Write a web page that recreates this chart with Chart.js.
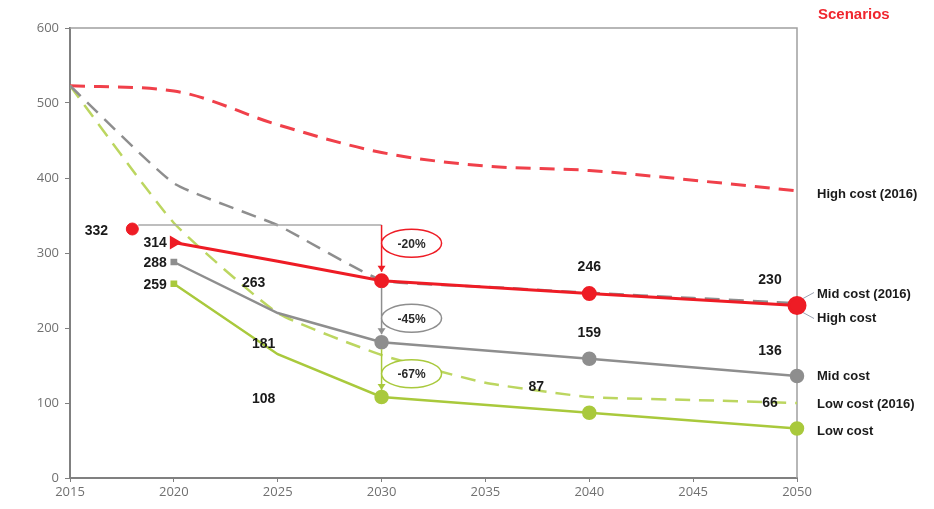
<!DOCTYPE html>
<html>
<head>
<meta charset="utf-8">
<script src="https://cdn.jsdelivr.net/npm/chart.js@4.4.1/dist/chart.umd.min.js"></script>
<style>
  body { margin: 0; background: #fff; }
  canvas { display: block; }
</style>
</head>
<body>
<canvas id="grafico" width="934" height="509"></canvas>
<script>
// Values
const anos2016 = [2015, 2020, 2025, 2030, 2035, 2040, 2045, 2050];
const highCost2016 = [523, 516, 471, 434, 416, 410, 397, 383];
const midCost2016 = [523, 393, 337, 264, 255, 247, 240, 233];
const lowCost2016 = [523, 340, 220, 164, 127, 108, 104, 100];

const anos = [2020, 2025, 2030, 2040, 2050];
const highCost = [314, 289, 263, 246, 230];
const midCost = [288, 220, 181, 159, 136];
const lowCost = [259, 165, 108, 87, 66];

const anoHistorico = [2018];
const valorHistorico = [332];

const reducoes = ['-20%', '-45%', '-67%'];
const yTicks = [0, 100, 200, 300, 400, 500, 600];

const VERMELHO = '#ee1c25';
const VERMELHO_TRAC = '#f0404a';
const CINZA = '#8e8e8e';
const VERDE = '#a9c93c';
const VERDE_TRAC = '#bcd660';

const pontos = (xs, ys) => xs.map((x, i) => ({ x: x, y: ys[i] }));

// 2020 markers are small, 2025 is only a bend, the rest are dots
const estilos = (forma, raioFinal) => ({
  pointStyle: [forma, 'circle', 'circle', 'circle', 'circle'],
  pointRadius: [forma === 'triangle' ? 5 : 3, 0, 6, 6, raioFinal],
  pointRotation: [90, 0, 0, 0, 0]
});

const fonteRotulo = 'bold 14px "Liberation Sans", Arial, sans-serif';

// frame, annotations and labels
const extras = {
  id: 'extras',
  beforeDatasetsDraw(chart) {
    const { ctx, chartArea: a } = chart;
    ctx.save();
    ctx.strokeStyle = '#a0a0a0';
    ctx.lineWidth = 1.5;
    ctx.beginPath();
    ctx.moveTo(a.left, a.top);
    ctx.lineTo(a.right, a.top);
    ctx.lineTo(a.right, a.bottom);
    ctx.stroke();
    ctx.restore();
  },
  afterDatasetsDraw(chart) {
    const { ctx, scales: { x, y } } = chart;
    ctx.save();

    // bracket from 2018 to 2030
    const x30 = x.getPixelForValue(2030);
    const yTopo = y.getPixelForValue(valorHistorico[0]) - 4;
    ctx.lineWidth = 1.5;
    ctx.strokeStyle = '#a8a8a8';
    ctx.beginPath();
    ctx.moveTo(x.getPixelForValue(anoHistorico[0]) + 6, yTopo);
    ctx.lineTo(x30, yTopo);
    ctx.stroke();

    const seta = (y1, y2, cor) => {
      ctx.strokeStyle = cor;
      ctx.fillStyle = cor;
      ctx.lineWidth = 1.5;
      ctx.beginPath();
      ctx.moveTo(x30, y1);
      ctx.lineTo(x30, y2);
      ctx.stroke();
      ctx.beginPath();
      ctx.moveTo(x30 - 4, y2 - 6);
      ctx.lineTo(x30 + 4, y2 - 6);
      ctx.lineTo(x30, y2);
      ctx.closePath();
      ctx.fill();
    };
    seta(yTopo, y.getPixelForValue(highCost[2]) - 9, VERMELHO);
    seta(y.getPixelForValue(highCost[2]) + 7, y.getPixelForValue(midCost[2]) - 8, CINZA);
    seta(y.getPixelForValue(midCost[2]) + 7, y.getPixelForValue(lowCost[2]) - 7, VERDE);

    // ellipses with the reductions
    const elipses = [
      [reducoes[0], 313, VERMELHO],
      [reducoes[1], 213, CINZA],
      [reducoes[2], 139, VERDE]
    ];
    ctx.font = 'bold 12px "Liberation Sans", Arial, sans-serif';
    ctx.textAlign = 'center';
    ctx.textBaseline = 'middle';
    elipses.forEach(([txt, v, cor]) => {
      const cx = x30 + 30, cy = y.getPixelForValue(v);
      ctx.fillStyle = '#fff';
      ctx.strokeStyle = cor;
      ctx.lineWidth = 1.5;
      ctx.beginPath();
      ctx.ellipse(cx, cy, 30, 14, 0, 0, Math.PI * 2);
      ctx.fill();
      ctx.stroke();
      ctx.fillStyle = '#2a2a2a';
      ctx.fillText(txt, cx, cy + 1);
    });

    // value labels
    ctx.font = fonteRotulo;
    ctx.fillStyle = '#1a1a1a';
    const rotulo = (ano, valor, dx, dy, alinh) => {
      ctx.textAlign = alinh;
      ctx.fillText(String(valor), x.getPixelForValue(ano) + dx, y.getPixelForValue(valor) + dy);
    };
    rotulo(anoHistorico[0], valorHistorico[0], -36, 2, 'center');
    [highCost, midCost, lowCost].forEach((serie, s) => {
      rotulo(anos[0], serie[0], -7, 1, 'right');
      rotulo(anos[2], serie[2], s === 0 ? -128 : -118, 2, 'center');
      rotulo(anos[3], serie[3], s === 2 ? -53 : 0, -26, 'center');
      rotulo(anos[4], serie[4], -27, -25, 'center');
    });

    // series names on the right
    const xNome = x.getPixelForValue(2050) + 20;
    const nomes = [
      ['High cost (2016)', highCost2016[7], 4],
      ['Mid cost (2016)', midCost2016[7], -9],
      ['High cost', highCost[4], 13],
      ['Mid cost', midCost[4], 0],
      ['Low cost (2016)', lowCost2016[7], 1],
      ['Low cost', lowCost[4], 3]
    ];
    ctx.font = 'bold 13px "Liberation Sans", Arial, sans-serif';
    ctx.textAlign = 'left';
    nomes.forEach(([txt, v, dy]) => {
      ctx.fillText(txt, xNome, y.getPixelForValue(v) + dy);
    });
    ctx.strokeStyle = '#9aa0b0';
    ctx.lineWidth = 1;
    ctx.beginPath();
    ctx.moveTo(xNome - 14, y.getPixelForValue(highCost[4]) - 7);
    ctx.lineTo(xNome - 3, y.getPixelForValue(highCost[4]) - 13);
    ctx.moveTo(xNome - 14, y.getPixelForValue(highCost[4]) + 7);
    ctx.lineTo(xNome - 3, y.getPixelForValue(highCost[4]) + 13);
    ctx.stroke();

    ctx.font = 'bold 15px "Liberation Sans", Arial, sans-serif';
    ctx.fillStyle = '#f0262e';
    ctx.fillText('Scenarios', xNome + 1, 15);
    ctx.restore();
  }
};

new Chart(document.getElementById('grafico'), {
  type: 'line',
  data: {
    datasets: [
      {
        label: 'High cost (2016)',
        data: pontos(anos2016, highCost2016),
        borderColor: VERMELHO_TRAC,
        borderWidth: 3,
        borderDash: [15, 9],
        cubicInterpolationMode: 'monotone',
        pointRadius: 0,
        order: 7
      },
      {
        label: 'Low cost (2016)',
        data: pontos(anos2016, lowCost2016),
        borderColor: VERDE_TRAC,
        borderWidth: 2.5,
        borderDash: [15, 9],
        tension: 0.15,
        pointRadius: 0,
        order: 6
      },
      {
        label: 'Mid cost (2016)',
        data: pontos(anos2016, midCost2016),
        borderColor: CINZA,
        borderWidth: 2.5,
        borderDash: [15, 9],
        tension: 0.15,
        pointRadius: 0,
        order: 5
      },
      {
        label: 'Low cost',
        data: pontos(anos, lowCost),
        borderColor: VERDE,
        backgroundColor: VERDE,
        borderWidth: 2.5,
        clip: false,
        order: 4,
        ...estilos('rect', 6)
      },
      {
        label: 'Mid cost',
        data: pontos(anos, midCost),
        borderColor: CINZA,
        backgroundColor: CINZA,
        borderWidth: 2.5,
        clip: false,
        order: 3,
        ...estilos('rect', 6)
      },
      {
        label: 'High cost',
        data: pontos(anos, highCost),
        borderColor: VERMELHO,
        backgroundColor: VERMELHO,
        borderWidth: 3,
        clip: false,
        order: 2,
        ...estilos('triangle', 8)
      },
      {
        label: '2018',
        data: pontos(anoHistorico, valorHistorico),
        borderColor: VERMELHO,
        backgroundColor: VERMELHO,
        showLine: false,
        pointRadius: 6,
        order: 1
      }
    ]
  },
  options: {
    responsive: false,
    animation: false,
    layout: { padding: { top: 28, right: 137, left: 0, bottom: 0 } },
    plugins: {
      legend: { display: false },
      tooltip: { enabled: false }
    },
    scales: {
      x: {
        type: 'linear',
        min: 2015,
        max: 2050,
        afterFit: s => { s.height = 31; },
        border: { color: '#808080', width: 2 },
        grid: { drawOnChartArea: false, tickLength: 4, color: '#808080' },
        ticks: {
          stepSize: 5,
          color: '#707070',
          font: { family: '"Open Sans", sans-serif', size: 13 },
          padding: 2,
          callback: v => String(v)
        }
      },
      y: {
        min: 0,
        max: 600,
        afterFit: s => { s.width = 70; },
        afterBuildTicks: s => { s.ticks = yTicks.map(v => ({ value: v })); },
        border: { color: '#808080', width: 2 },
        grid: { drawOnChartArea: false, tickLength: 5, color: '#808080' },
        ticks: {
          color: '#707070',
          font: { family: '"Open Sans", sans-serif', size: 13 },
          padding: 6
        }
      }
    }
  },
  plugins: [extras]
});
</script>
</body>
</html>
